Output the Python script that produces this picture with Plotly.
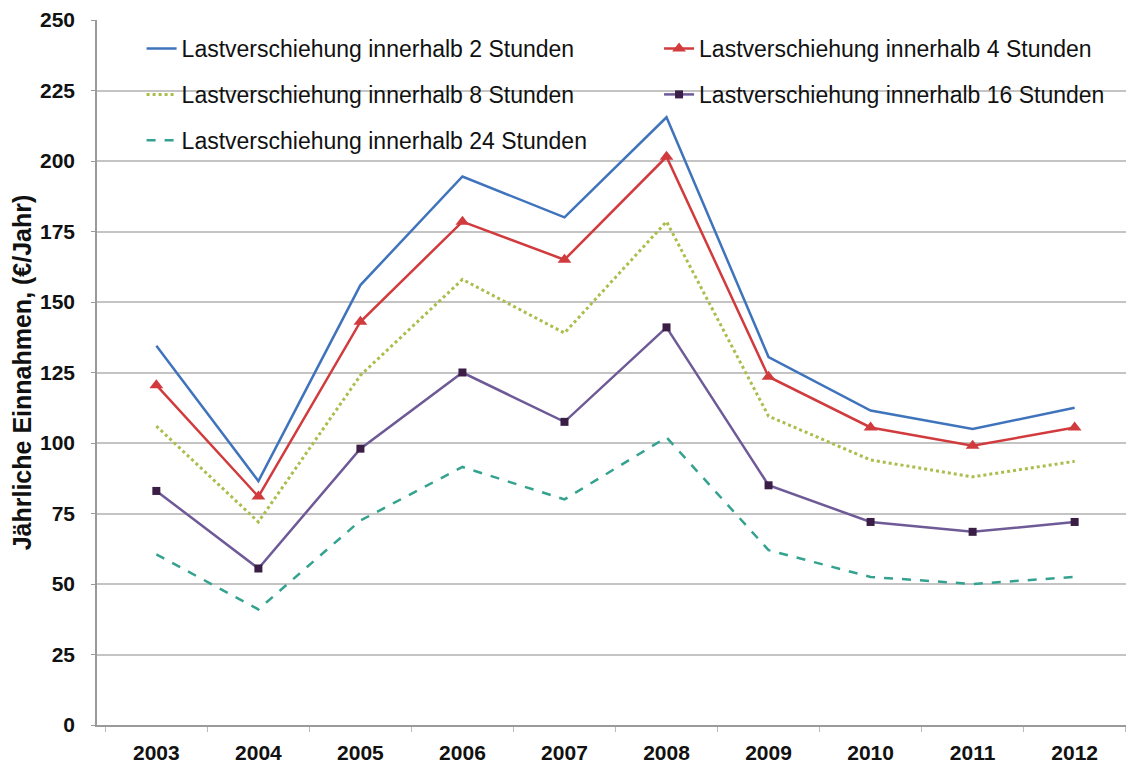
import plotly.graph_objects as go

# Jahre und Einnahmen je Verschiebefenster
jahre = ['2003', '2004', '2005', '2006', '2007', '2008', '2009', '2010', '2011', '2012']

h2 = [134.5, 86.5, 156, 194.5, 180, 215.5, 130.5, 111.5, 105, 112.5]
h4 = [120.5, 81, 143, 178.5, 165, 201.5, 123.5, 105.5, 99, 105.5]
h8 = [106, 72, 124, 158, 139, 178.5, 109.5, 94, 88, 93.5]
h16 = [83, 55.5, 98, 125, 107.5, 141, 85, 72, 68.5, 72]
h24 = [60.5, 41, 72.5, 91.5, 80, 102, 62, 52.5, 50, 52.5]

names = ['Lastverschiehung innerhalb 2 Stunden',
         'Lastverschiehung innerhalb 4 Stunden',
         'Lastverschiehung innerhalb 8 Stunden',
         'Lastverschiehung innerhalb 16 Stunden',
         'Lastverschiehung innerhalb 24 Stunden']

fig = go.Figure()

fig.add_trace(go.Scatter(x=jahre, y=h2, name=names[0], mode='lines',
                         line=dict(color='#3F74BC', width=2.5),
                         legend='legend', legendgroup='a'))
fig.add_trace(go.Scatter(x=jahre, y=h8, name=names[2], mode='lines',
                         line=dict(color='#A9BE4C', width=3, dash='dot'),
                         legend='legend', legendgroup='c'))
fig.add_trace(go.Scatter(x=jahre, y=h24, name=names[4], mode='lines',
                         line=dict(color='#33A28F', width=2.5, dash='dash'),
                         legend='legend', legendgroup='e'))
fig.add_trace(go.Scatter(x=jahre, y=h4, name=names[1], mode='lines+markers',
                         line=dict(color='#D13B3E', width=2.5),
                         marker=dict(symbol='triangle-up', size=12, color='#D13B3E'),
                         legend='legend2', legendgroup='b'))
fig.add_trace(go.Scatter(x=jahre, y=h16, name=names[3], mode='lines+markers',
                         line=dict(color='#6E5A96', width=2.5),
                         marker=dict(symbol='square', size=8, color='#3A1E45'),
                         legend='legend2', legendgroup='d'))

leg_font = dict(family='Liberation Sans, Arial', size=23, color='#111111')
tick_font = dict(family='Liberation Sans, Arial', size=21, color='#111111', weight='bold')

# page body has an 8px margin, so the figure is sized a bit smaller
fig.update_layout(
    width=1126, height=761,
    margin=dict(l=89, r=0, t=12, b=44),
    paper_bgcolor='white', plot_bgcolor='white',
    font=dict(family='Liberation Sans, Arial', color='#111111'),
    legend=dict(x=0.043, y=0.99, xanchor='left', yanchor='top',
                font=leg_font, tracegroupgap=13, bgcolor='rgba(0,0,0,0)'),
    legend2=dict(x=0.542, y=0.99, xanchor='left', yanchor='top',
                 font=leg_font, tracegroupgap=13, bgcolor='rgba(0,0,0,0)',
                 traceorder='grouped'),
    xaxis=dict(type='category', showgrid=False, showline=True, linecolor='#9A9A9A',
               linewidth=1.5, ticks='outside', tickson='boundaries', ticklen=5,
               tickcolor='#BBBBBB', automargin=False, ticklabelstandoff=8,
               tickfont=tick_font),
    yaxis=dict(range=[0, 250], dtick=25, showgrid=True, gridcolor='#C4C4C4',
               gridwidth=1.5, showline=True, linecolor='#9A9A9A', linewidth=1.5,
               ticks='outside', ticklen=4, tickcolor='#9A9A9A', zeroline=False,
               ticklabelstandoff=12, automargin=False, tickfont=tick_font,
               title=dict(text='Jährliche Einnahmen, (€/Jahr)', standoff=10,
                          font=dict(family='Liberation Sans, Arial', size=25,
                                    color='#111111', weight='bold'))),
)

fig.write_html('out.html')
